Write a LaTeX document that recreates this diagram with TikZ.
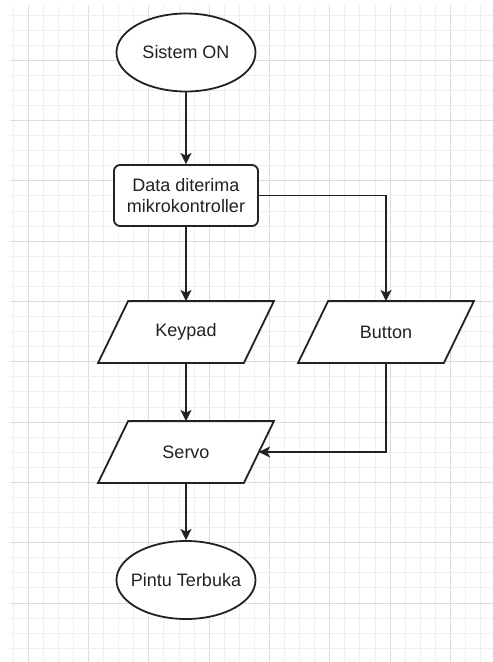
\documentclass[tikz,border=0pt]{standalone}
\usepackage{fontspec}
\setmainfont{Liberation Sans}
\usetikzlibrary{shapes.geometric,arrows.meta}
\pgfdeclarelayer{bg}
\pgfsetlayers{bg,main}
\definecolor{gridminor}{HTML}{EFEFEF}
\definecolor{gridmajor}{HTML}{DCDCDC}
\definecolor{ink}{HTML}{222222}
% zero-width label so the ellipse hugs the text like the editor draws it
\newcommand{\tightlabel}[1]{\makebox[0pt]{#1}}
\tikzset{
  base/.style={draw=ink, line width=1.8pt, fill=white, inner sep=0pt,
    text=ink, font=\fontsize{18}{21.6}\selectfont, align=center},
  terminal/.style={base, ellipse, minimum width=139pt, minimum height=78pt},
  process/.style={base, rectangle, rounded corners=6pt, minimum width=144pt, minimum height=61pt},
  iobox/.style={base, draw=none, fill=none, rectangle, minimum width=144pt, minimum height=60pt},
  ioshape/.style={draw=ink, line width=1.8pt, fill=white, line join=miter},
  flow/.style={draw=ink, line width=1.8pt, -{Stealth[length=11pt,width=11pt,inset=2.5pt]}},
}
\begin{document}
\begin{tikzpicture}[x=1pt,y=-1pt]
\useasboundingbox (0,0) rectangle (493,662);

% nodes
\node[terminal] (sistem) at (186,52.5) {\tightlabel{Sistem ON}};
\node[process]  (data)   at (186,195.5) {Data diterima\\mikrokontroller};
\node[iobox]    (keypad) at (186,332) {Keypad};
\node[iobox]    (button) at (386,332) {Button};
\node[iobox]    (servo)  at (186,452) {Servo};
\node[terminal] (pintu)  at (186,580) {\tightlabel{Pintu Terbuka}};

\begin{pgfonlayer}{bg}
  \fill[white] (0,0) rectangle (493,662);
  % drawing grid
  \begin{scope}
    \clip (10,5) rectangle (493,662);
    \foreach \i in {0,...,32} {
      \pgfmathsetmacro{\gx}{13.225+15.075*\i}
      \pgfmathtruncatemacro{\maj}{mod(\i+3,4)==0}
      \ifnum\maj=1
        \draw[gridmajor, line width=1pt] (\gx,5) -- (\gx,662);
      \else
        \draw[gridminor, line width=1pt] (\gx,5) -- (\gx,662);
      \fi
    }
    \foreach \j in {1,...,43} {
      \pgfmathsetmacro{\gy}{15.075*\j}
      \pgfmathtruncatemacro{\maj}{mod(\j,4)==0}
      \ifnum\maj=1
        \draw[gridmajor, line width=1pt] (10,\gy) -- (493,\gy);
      \else
        \draw[gridminor, line width=1pt] (10,\gy) -- (493,\gy);
      \fi
    }
  \end{scope}
  % slanted input/output boxes
  \foreach \n in {keypad,button,servo} {
    \draw[ioshape] ([xshift=15pt]\n.north west) -- ([xshift=15pt]\n.north east)
      -- ([xshift=-15pt]\n.south east) -- ([xshift=-15pt]\n.south west) -- cycle;
  }
\end{pgfonlayer}

% connectors
\draw[flow] (sistem) -- (data);
\draw[flow] (data) -- (keypad);
\draw[flow] (data.east) -| (button.north);
\draw[flow] (keypad) -- (servo);
\draw[flow] (button.south) |- (servo.east);
\draw[flow] (servo) -- (pintu);
\end{tikzpicture}
\end{document}
